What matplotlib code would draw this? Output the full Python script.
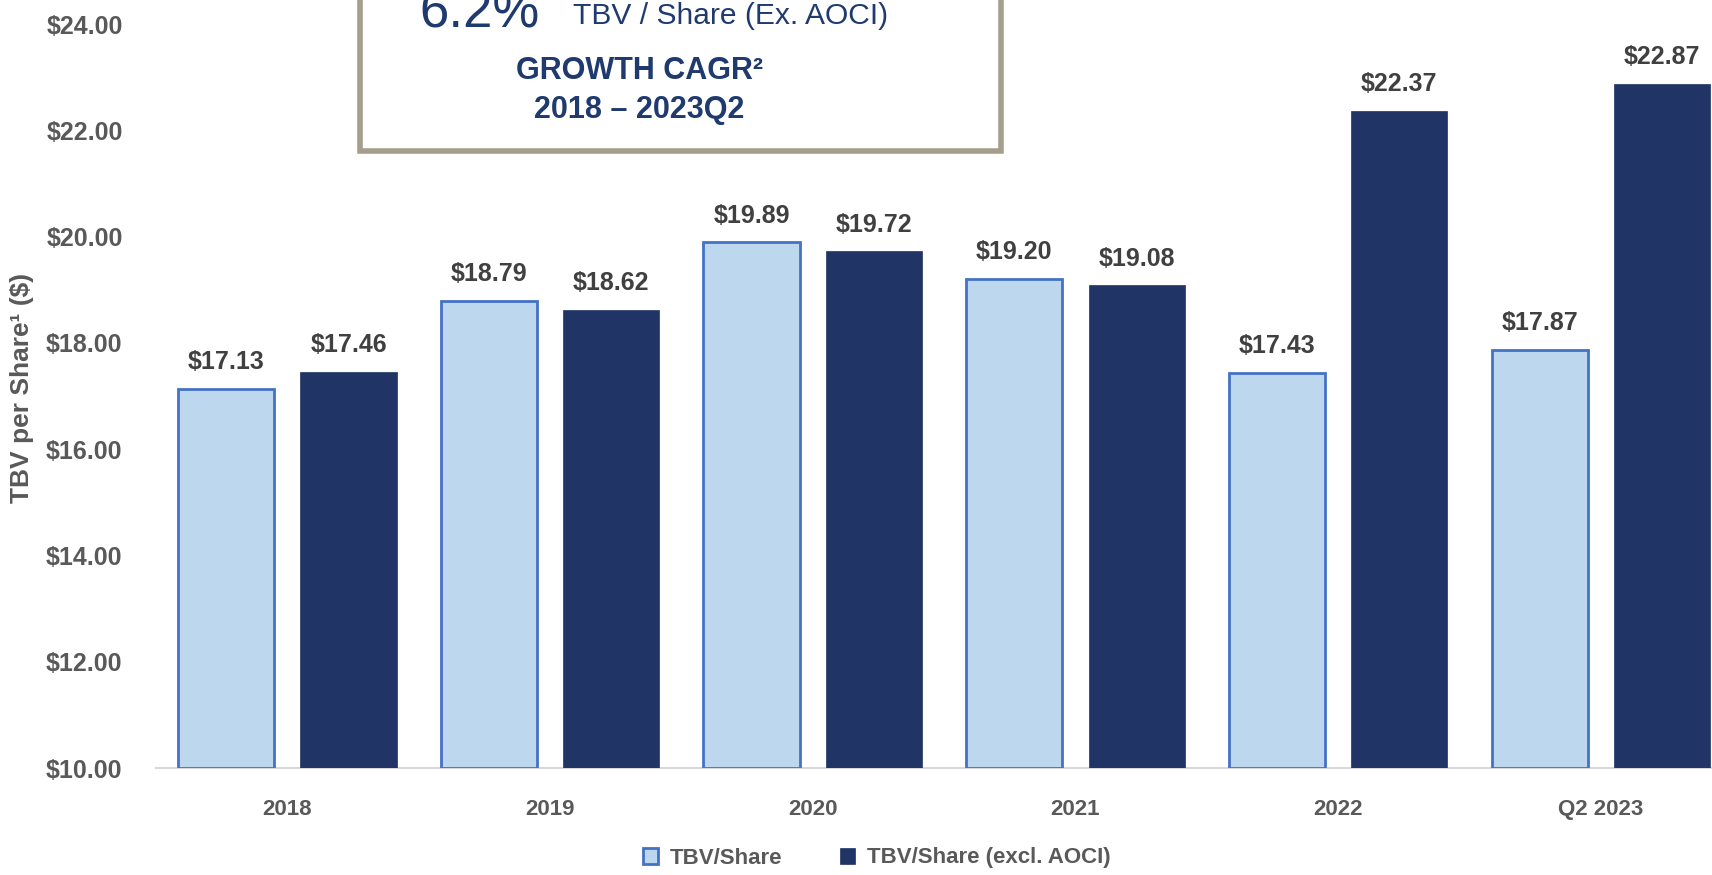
import matplotlib
matplotlib.use("Agg")
import matplotlib.pyplot as plt
import numpy as np
from matplotlib.patches import Rectangle

plt.rcParams['font.family'] = ['Liberation Sans', 'DejaVu Sans']

categorias = ["2018", "2019", "2020", "2021", "2022", "Q2 2023"]
tbv_share = [17.13, 18.79, 19.89, 19.20, 17.43, 17.87]
tbv_excl_aoci = [17.46, 18.62, 19.72, 19.08, 22.37, 22.87]
etiquetas_y = [10, 12, 14, 16, 18, 20, 22, 24]

claro = "#BDD7EE"
borde = "#4472C4"
oscuro = "#203465"
gris = "#595959"
navy = "#1F3A6E"

W, H = 1712, 875
fig = plt.figure(figsize=(W / 100, H / 100), dpi=100)

# eje: 156px a la izquierda, cada categoria ~262.7px, se sale por la derecha
x0 = 156 / W
ancho = 6 * 262.7 / W
y_base = (H - 768) / H
y_top = (H - 24) / H
ax = fig.add_axes([x0, y_base, ancho, y_top - y_base])

x = np.arange(len(categorias))
w = 0.366
b1 = ax.bar(x - 0.233, np.array(tbv_share) - 10, w, bottom=10, color=claro,
            edgecolor=borde, linewidth=2, label="TBV/Share", zorder=3)
b2 = ax.bar(x + 0.233, np.array(tbv_excl_aoci) - 10, w, bottom=10, color=oscuro,
            edgecolor=oscuro, linewidth=0.5, label="TBV/Share (excl. AOCI)", zorder=3)

for xi, v in zip(x - 0.233, tbv_share):
    ax.text(xi, v + 0.28, "${:.2f}".format(v), ha="center", va="bottom",
            fontsize=18, fontweight="bold", color="#404040")
for xi, v in zip(x + 0.233, tbv_excl_aoci):
    ax.text(xi, v + 0.28, "${:.2f}".format(v), ha="center", va="bottom",
            fontsize=18, fontweight="bold", color="#404040")

ax.set_xlim(-0.5, 5.5)
ax.set_ylim(10, 24)
ax.set_yticks(etiquetas_y)
ax.set_yticklabels(["${:.2f}".format(v) for v in etiquetas_y])
ax.set_xticks(x)
ax.set_xticklabels(categorias)
ax.tick_params(axis="y", length=0, pad=24, labelsize=18, labelcolor=gris)
ax.tick_params(axis="x", length=0, pad=22, labelsize=16, labelcolor=gris)
for lbl in ax.get_xticklabels() + ax.get_yticklabels():
    lbl.set_fontweight("bold")
for s in ["top", "right", "left"]:
    ax.spines[s].set_visible(False)
ax.spines["bottom"].set_color("#D9D9D9")
ax.spines["bottom"].set_linewidth(1.5)

fig.text(22 / W, 1 - 388 / H, "TBV per Share¹ ($)", rotation=90, ha="center",
         va="center", fontsize=19, fontweight="bold", color=gris)

leg = fig.legend(handles=[b1, b2], loc="center", bbox_to_anchor=(0.512, 1 - 858 / H),
                 ncol=2, frameon=False, fontsize=16, handlelength=0.7,
                 handleheight=0.7, columnspacing=2.6, handletextpad=0.5)
for t in leg.get_texts():
    t.set_color(gris)
    t.set_fontweight("bold")

# recuadro CAGR (cortado arriba como en la imagen original)
caja = Rectangle((360 / W, 1 - 151 / H), (1001 - 360) / W, 200 / H,
                 transform=fig.transFigure, facecolor="white", edgecolor="#A59E8C",
                 linewidth=4, zorder=5)
fig.patches.append(caja)
fig.text(480 / W, 1 - 27 / H, "6.2%", ha="center", va="baseline", fontsize=38,
         color=navy, zorder=6)
fig.text(573 / W, 1 - 24 / H, "TBV / Share (Ex. AOCI)", ha="left", va="baseline",
         fontsize=21.6, color=navy, zorder=6)
fig.text(639 / W, 1 - 71 / H, "GROWTH CAGR²", ha="center", va="center",
         fontsize=22, fontweight="bold", color=navy, zorder=6)
fig.text(639 / W, 1 - 110 / H, "2018 – 2023Q2", ha="center", va="center",
         fontsize=22, fontweight="bold", color=navy, zorder=6)

fig.savefig("out.png", dpi=100)
